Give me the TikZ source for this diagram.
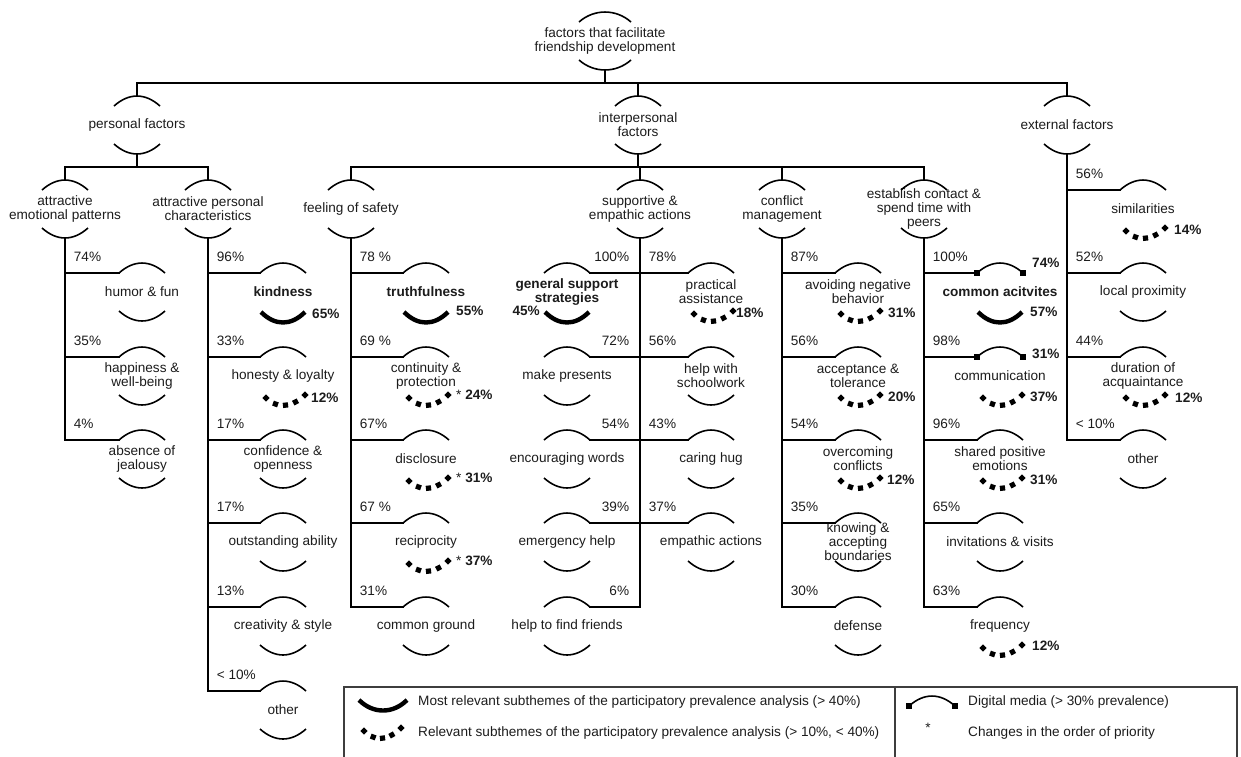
\documentclass[tikz,border=0pt]{standalone}
\usepackage{fontspec}
\setmainfont{Liberation Sans}
\usetikzlibrary{shapes.geometric}
\definecolor{ink}{HTML}{1C1C1C}
\newcommand\fsz{\fontsize{13.6}{14}\selectfont}
\def\hw{23}
\newcommand\fnode[5][]{%
  \node[lbl,#1] (#2) at (#3,#4) {#5};
  \path (#3,#4) ++(-\hw,-19) coordinate (#2-tl)
        (#3,#4) ++(\hw,-19) coordinate (#2-tr)
        (#3,#4) ++(-\hw,19) coordinate (#2-bl)
        (#3,#4) ++(\hw,19) coordinate (#2-br)
        (#3,#4) ++(0,-29) coordinate (#2-top)
        (#3,#4) ++(0,29) coordinate (#2-bot);}
\newcommand\toparc[1]{\draw[arcline] (#1-tl) .. controls +(15,-13.3) and +(-15,-13.3) .. (#1-tr);}
\newcommand\botarc[1]{\draw[arcline] (#1-bl) .. controls +(15,13.3) and +(-15,13.3) .. (#1-br);}
\newcommand\crescent[2]{%
  \draw[line width=4.4pt] ([xshift=1pt,yshift=-1pt]#1) .. controls +(14,14) and +(-14,14) .. ([xshift=-1pt,yshift=-1pt]#2);}
\newcommand\boldbot[1]{\crescent{#1-bl}{#1-br}}
\newcommand\dotarc[3]{%
  \path (#1) .. controls +(12,11.5) and +(-12,11.5) .. (#2)
    node[diam,pos=0] (#3-m0) {} node[sqm,pos=.25,sloped] (#3-m1) {}
    node[sqm,pos=.5,sloped] (#3-m2) {} node[sqm,pos=.75,sloped] (#3-m3) {}
    node[diam,pos=1] (#3-m4) {};}
\newcommand\dotbot[1]{\path (#1-bl) ++(6,3) coordinate (#1-dl) (#1-br) ++(-1,0) coordinate (#1-dr); \dotarc{#1-dl}{#1-dr}{#1}}
\newcommand\digisq[1]{\fill (#1) +(-3.4,-3.4) rectangle +(3.4,3.4);}
\newcommand\digitop[1]{\toparc{#1}\digisq{#1-tl}\digisq{#1-tr}}
\newcommand\ann[4]{\path (#1-br) ++(#2,#3) node[bpct,anchor=west] (#1-a) {#4};}
\newcommand\rbranch[3]{\draw[wire] (#1 |- #2-tl) node[pct, anchor=west, xshift=8pt, yshift=16pt] (#2-p) {#3} -- (#2-tl);}
\newcommand\lbranch[3]{\draw[wire] (#1 |- #2-tr) node[pct, anchor=east, xshift=-10pt, yshift=16pt] (#2-p) {#3} -- (#2-tr);}
\begin{document}
\begin{tikzpicture}[x=1pt,y=-1pt,
  lbl/.style={font=\fsz, text=ink, align=center, inner sep=0pt},
  strong/.style={font=\fsz\bfseries},
  pct/.style={font=\fsz, text=ink, inner sep=0pt},
  bpct/.style={font=\fsz\bfseries, text=ink, inner sep=0pt},
  wire/.style={line width=1.8pt, line cap=rect},
  arcline/.style={line width=1.6pt},
  legline/.style={line width=1.1pt, draw=ink!85},
  sqm/.style={rectangle, fill=black, minimum size=5.2pt, inner sep=0pt},
  diam/.style={diamond, fill=black, minimum width=7.6pt, minimum height=7.6pt, inner sep=0pt}]
\useasboundingbox (0,0) rectangle (1241,756);

% ---------- root and level 1 ----------
\def\hw{26}
\fnode{root}{605}{41}{factors that facilitate\\friendship development}
\def\hw{23}
\fnode{pf}{137}{125}{personal factors}
\fnode{ipf}{638}{125}{interpersonal\\factors}
\fnode{ef}{1067}{125}{external factors}
% ---------- level 2 ----------
\fnode{aep}{65}{209}{attractive\\emotional patterns}
\fnode{apc}{208}{209}{attractive personal\\characteristics}
\fnode{fos}{351}{209}{feeling of safety}
\fnode{sea}{640}{209}{supportive \&\\empathic actions}
\fnode{cm}{782}{209}{conflict\\management}
\fnode{ec}{924}{209}{establish contact \&\\spend time with\\peers}
\foreach \n in {root,pf,ipf,ef,aep,apc,fos,sea,cm,ec}{\toparc{\n}\botarc{\n}}

% ---------- level 3 ----------
\fnode{a1}{142}{292}{humor \& fun}
\fnode{a2}{142}{376}{happiness \&\\well-being}
\fnode{a3}{142}{459}{absence of\\jealousy}
\fnode[strong]{b1}{283}{292}{kindness}
\fnode{b2}{283}{376}{honesty \& loyalty}
\fnode{b3}{283}{459}{confidence \&\\openness}
\fnode{b4}{283}{542}{outstanding ability}
\fnode{b5}{283}{626}{creativity \& style}
\fnode{b6}{283}{710}{other}
\fnode[strong]{c1}{426}{292}{truthfulness}
\fnode{c2}{426}{376}{continuity \&\\protection}
\fnode{c3}{426}{459}{disclosure}
\fnode{c4}{426}{542}{reciprocity}
\fnode{c5}{426}{626}{common ground}
\fnode[strong]{d1}{567}{292}{general support\\strategies}
\fnode{d2}{567}{376}{make presents}
\fnode{d3}{567}{459}{encouraging words}
\fnode{d4}{567}{542}{emergency help}
\fnode{d5}{567}{626}{help to find friends}
\fnode{d6}{711}{292}{practical\\assistance}
\fnode{d7}{711}{376}{help with\\schoolwork}
\fnode{d8}{711}{459}{caring hug}
\fnode{d9}{711}{542}{empathic actions}
\fnode{e1}{858}{292}{avoiding negative\\behavior}
\fnode{e2}{858}{376}{acceptance \&\\tolerance}
\fnode{e3}{858}{459}{overcoming\\conflicts}
\fnode{e4}{858}{542}{knowing \&\\accepting\\boundaries}
\fnode{e5}{858}{626}{defense}
\fnode[strong]{f1}{1000}{292}{common acitvites}
\fnode{f2}{1000}{376}{communication}
\fnode{f3}{1000}{459}{shared positive\\emotions}
\fnode{f4}{1000}{542}{invitations \& visits}
\fnode{f5}{1000}{626}{frequency}
\fnode{g1}{1143}{209}{similarities}
\fnode{g2}{1143}{292}{local proximity}
\fnode{g3}{1143}{376}{duration of\\acquaintance}
\fnode{g4}{1143}{459}{other}

\foreach \n in {a1,a2,a3,b1,b2,b3,b4,b5,b6,c1,c2,c3,c4,c5,d1,d2,d3,d4,d5,d6,d7,d8,d9,e1,e2,e3,e4,e5,f3,f4,f5,g1,g2,g3,g4}{\toparc{\n}}
\digitop{f1}\digitop{f2}
\foreach \n in {a1,a2,a3,b3,b4,b5,b6,c5,d2,d3,d4,d5,d7,d8,d9,e4,e5,f4,g2,g4}{\botarc{\n}}
\foreach \n in {b1,c1,d1,f1}{\boldbot{\n}}
\foreach \n in {b2,c2,c3,c4,d6,e1,e2,e3,f2,f3,f5,g1,g3}{\dotbot{\n}}

% ---------- annotations ----------
\ann{b1}{6}{3}{65\%}
\ann{c1}{7}{0}{55\%}
\path (d1-bl) ++(-4,0) node[bpct,anchor=east] (d1-a) {45\%};
\ann{f1}{7}{1}{57\%}
\path (f1-tr) ++(9,-10) node[bpct,anchor=west] (f1-d) {74\%};
\path (f2-tr) ++(9,-3) node[bpct,anchor=west] (f2-d) {31\%};
\ann{b2}{5}{3}{12\%}
\ann{c2}{7}{0}{{\mdseries *} 24\%}
\ann{c3}{7}{0}{{\mdseries *} 31\%}
\ann{c4}{7}{0}{{\mdseries *} 37\%}
\ann{d6}{2}{2}{18\%}
\ann{e1}{7}{2}{31\%}
\ann{e2}{7}{2}{20\%}
\ann{e3}{6}{2}{12\%}
\ann{f2}{7}{2}{37\%}
\ann{f3}{7}{2}{31\%}
\ann{f5}{9}{1}{12\%}
\ann{g1}{8}{2}{14\%}
\ann{g3}{9}{3}{12\%}

% ---------- connectors ----------
\coordinate (bus1) at (605,83);
\coordinate (bus2) at (638,167);
\draw[wire] (root-bot) -- (root-bot |- bus1);
\draw[wire] (pf-top) -- (pf-top |- bus1) -- (ef-top |- bus1) -- (ef-top);
\draw[wire] (ipf-top |- bus1) -- (ipf-top);
\draw[wire] (pf-bot) -- (pf-bot |- bus2);
\draw[wire] (aep-top) -- (aep-top |- bus2) -- (apc-top |- bus2) -- (apc-top);
\draw[wire] (ipf-bot) -- (ipf-bot |- bus2);
\draw[wire] (fos-top) -- (fos-top |- bus2) -- (ec-top |- bus2) -- (ec-top);
\draw[wire] (sea-top |- bus2) -- (sea-top);
\draw[wire] (cm-top |- bus2) -- (cm-top);

% trunks
\draw[wire] (aep-bot) -- (aep-bot |- a3-tl);
\draw[wire] (apc-bot) -- (apc-bot |- b6-tl);
\draw[wire] (fos-bot) -- (fos-bot |- c5-tl);
\draw[wire] (sea-bot) -- (sea-bot |- d5-tl);
\draw[wire] (cm-bot) -- (cm-bot |- e5-tl);
\draw[wire] (ec-bot) -- (ec-bot |- f5-tl);
\draw[wire] (ef-bot) -- (ef-bot |- g4-tl);

% branches
\rbranch{aep-bot}{a1}{74\%}
\rbranch{aep-bot}{a2}{35\%}
\rbranch{aep-bot}{a3}{4\%}
\rbranch{apc-bot}{b1}{96\%}
\rbranch{apc-bot}{b2}{33\%}
\rbranch{apc-bot}{b3}{17\%}
\rbranch{apc-bot}{b4}{17\%}
\rbranch{apc-bot}{b5}{13\%}
\rbranch{apc-bot}{b6}{< 10\%}
\rbranch{fos-bot}{c1}{78 \%}
\rbranch{fos-bot}{c2}{69 \%}
\rbranch{fos-bot}{c3}{67\%}
\rbranch{fos-bot}{c4}{67 \%}
\rbranch{fos-bot}{c5}{31\%}
\lbranch{sea-bot}{d1}{100\%}
\lbranch{sea-bot}{d2}{72\%}
\lbranch{sea-bot}{d3}{54\%}
\lbranch{sea-bot}{d4}{39\%}
\lbranch{sea-bot}{d5}{6\%}
\rbranch{sea-bot}{d6}{78\%}
\rbranch{sea-bot}{d7}{56\%}
\rbranch{sea-bot}{d8}{43\%}
\rbranch{sea-bot}{d9}{37\%}
\rbranch{cm-bot}{e1}{87\%}
\rbranch{cm-bot}{e2}{56\%}
\rbranch{cm-bot}{e3}{54\%}
\rbranch{cm-bot}{e4}{35\%}
\rbranch{cm-bot}{e5}{30\%}
\rbranch{ec-bot}{f1}{100\%}
\rbranch{ec-bot}{f2}{98\%}
\rbranch{ec-bot}{f3}{96\%}
\rbranch{ec-bot}{f4}{65\%}
\rbranch{ec-bot}{f5}{63\%}
\rbranch{ef-bot}{g1}{56\%}
\rbranch{ef-bot}{g2}{52\%}
\rbranch{ef-bot}{g3}{44\%}
\rbranch{ef-bot}{g4}{< 10\%}

% ---------- legend ----------
\draw[legline] (344,687) rectangle (895,770);
\draw[legline] (895,687) rectangle (1237,770);
\coordinate (lgA) at (358,699);
\coordinate (lgB) at (408,699);
\crescent{lgA}{lgB}
\node[pct, anchor=west] (lg1) at (418,702) {Most relevant subthemes of the participatory prevalence analysis (> 40\%)};
\coordinate (lgC) at (364,731);
\coordinate (lgD) at (401,728);
\dotarc{lgC}{lgD}{lgdot}
\node[pct, anchor=west] (lg2) at (418,733) {Relevant subthemes of the participatory prevalence analysis (> 10\%, < 40\%)};
\coordinate (lgE) at (909,706);
\coordinate (lgF) at (955,706);
\draw[arcline] (lgE) .. controls +(15,-13.3) and +(-15,-13.3) .. (lgF);
\digisq{lgE}\digisq{lgF}
\node[pct, anchor=west] (lg3) at (968,702) {Digital media (> 30\% prevalence)};
\node[pct] (lg4s) at (928,728) {*};
\node[pct, anchor=west] (lg4) at (968,733) {Changes in the order of priority};
\end{tikzpicture}
\end{document}
